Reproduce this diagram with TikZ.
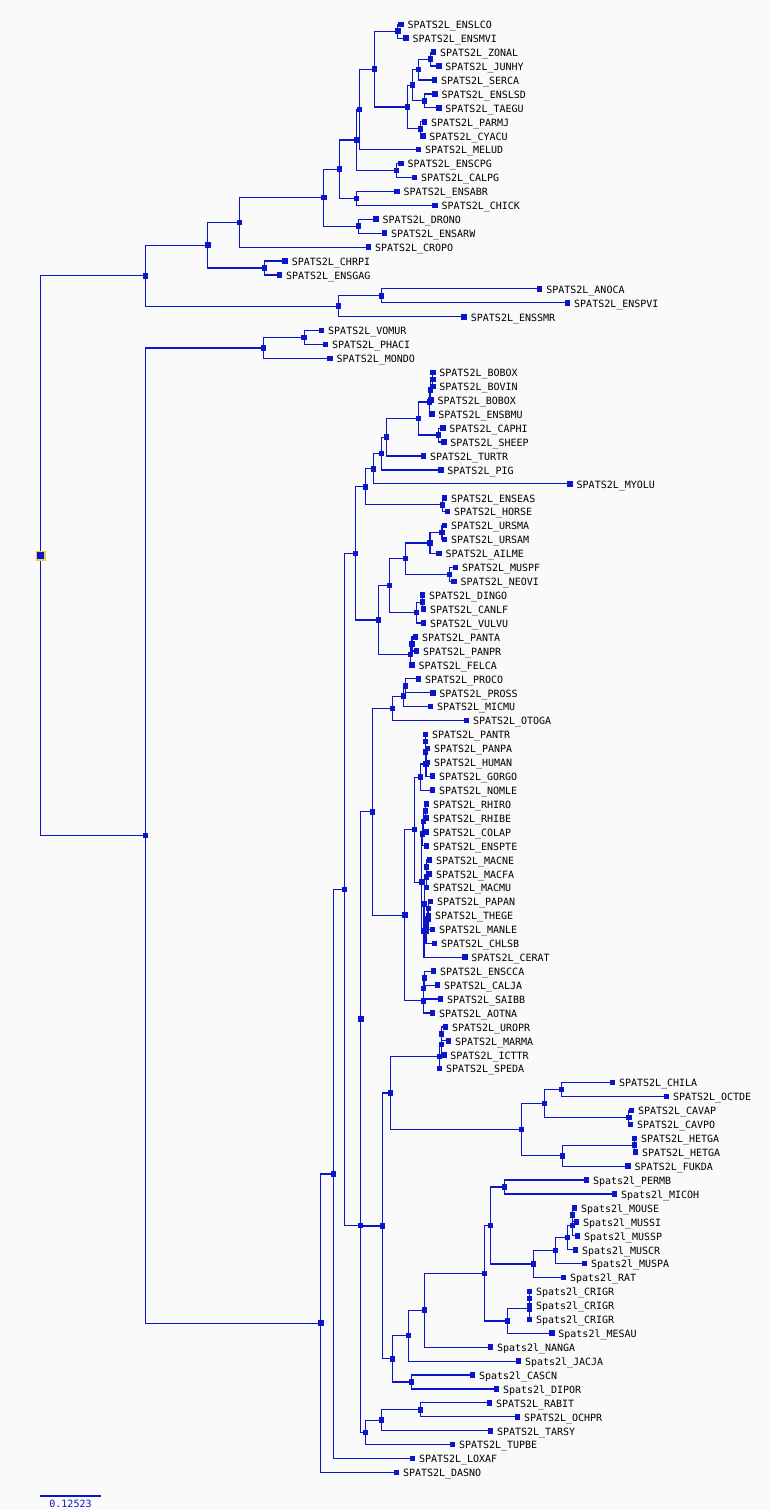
\documentclass[tikz,border=0pt]{standalone}
\usepackage{fontspec}
\newfontfamily\monof{DejaVu Sans Mono}
\usetikzlibrary{calc}
\definecolor{bl}{RGB}{10,22,200}
\definecolor{bg}{RGB}{250,250,250}
\definecolor{hl}{RGB}{232,204,80}
\tikzset{
  br/.style={draw=bl,line width=1.2pt},
  sq/.style={rectangle,fill=bl,draw=none,inner sep=0pt,minimum size=5.6pt},
  lab/.style={anchor=base west,inner sep=0pt,text=black,font=\monof\fontsize{10}{12}\selectfont},
}
\newcommand{\lfn}[3]{%
  \coordinate (L#1) at (#2,{24.3+(#1-1)*13.925});%
  \node[sq] (L#1s) at (L#1) {};%
  \node[lab] (L#1t) at ([xshift=6.5pt,yshift=-4.3pt]L#1) {#3};%
}
\newcommand{\inn}[4]{%
  \path let \p1=(#3), \p2=(#4) in coordinate (#1) at (#2pt,{(\y1+\y2)/2});%
  \draw[br] (#1) |- (#3);%
  \draw[br] (#1) |- (#4);%
  \node[sq] (#1s) at (#1) {};%
}
\begin{document}
\begin{tikzpicture}[x=1pt,y=-1pt]
\path[fill=bg,use as bounding box] (0,0) rectangle (770,1510);
% leaves
\lfn{1}{401}{SPATS2L\_ENSLCO}
\lfn{2}{406}{SPATS2L\_ENSMVI}
\lfn{3}{433.3}{SPATS2L\_ZONAL}
\lfn{4}{438.7}{SPATS2L\_JUNHY}
\lfn{5}{434.3}{SPATS2L\_SERCA}
\lfn{6}{435}{SPATS2L\_ENSLSD}
\lfn{7}{438.7}{SPATS2L\_TAEGU}
\lfn{8}{424.3}{SPATS2L\_PARMJ}
\lfn{9}{422.7}{SPATS2L\_CYACU}
\lfn{10}{418.3}{SPATS2L\_MELUD}
\lfn{11}{401}{SPATS2L\_ENSCPG}
\lfn{12}{414.3}{SPATS2L\_CALPG}
\lfn{13}{397}{SPATS2L\_ENSABR}
\lfn{14}{435}{SPATS2L\_CHICK}
\lfn{15}{376}{SPATS2L\_DRONO}
\lfn{16}{384.3}{SPATS2L\_ENSARW}
\lfn{17}{368.3}{SPATS2L\_CROPO}
\lfn{18}{285.1}{SPATS2L\_CHRPI}
\lfn{19}{279.4}{SPATS2L\_ENSGAG}
\lfn{20}{539.6}{SPATS2L\_ANOCA}
\lfn{21}{567.5}{SPATS2L\_ENSPVI}
\lfn{22}{464.2}{SPATS2L\_ENSSMR}
\lfn{23}{321.5}{SPATS2L\_VOMUR}
\lfn{24}{325.3}{SPATS2L\_PHACI}
\lfn{25}{330}{SPATS2L\_MONDO}
\lfn{26}{432.7}{SPATS2L\_BOBOX}
\lfn{27}{432.7}{SPATS2L\_BOVIN}
\lfn{28}{431}{SPATS2L\_BOBOX}
\lfn{29}{431.7}{SPATS2L\_ENSBMU}
\lfn{30}{442.7}{SPATS2L\_CAPHI}
\lfn{31}{443.7}{SPATS2L\_SHEEP}
\lfn{32}{423.3}{SPATS2L\_TURTR}
\lfn{33}{440.7}{SPATS2L\_PIG}
\lfn{34}{570}{SPATS2L\_MYOLU}
\lfn{35}{444.3}{SPATS2L\_ENSEAS}
\lfn{36}{447.3}{SPATS2L\_HORSE}
\lfn{37}{444.3}{SPATS2L\_URSMA}
\lfn{38}{444.3}{SPATS2L\_URSAM}
\lfn{39}{439}{SPATS2L\_AILME}
\lfn{40}{455.3}{SPATS2L\_MUSPF}
\lfn{41}{454}{SPATS2L\_NEOVI}
\lfn{42}{422.3}{SPATS2L\_DINGO}
\lfn{43}{423.3}{SPATS2L\_CANLF}
\lfn{44}{423.3}{SPATS2L\_VULVU}
\lfn{45}{415.3}{SPATS2L\_PANTA}
\lfn{46}{416.3}{SPATS2L\_PANPR}
\lfn{47}{412}{SPATS2L\_FELCA}
\lfn{48}{418.3}{SPATS2L\_PROCO}
\lfn{49}{432.7}{SPATS2L\_PROSS}
\lfn{50}{430.3}{SPATS2L\_MICMU}
\lfn{51}{466.3}{SPATS2L\_OTOGA}
\lfn{52}{425.3}{SPATS2L\_PANTR}
\lfn{53}{427.3}{SPATS2L\_PANPA}
\lfn{54}{427.3}{SPATS2L\_HUMAN}
\lfn{55}{432.3}{SPATS2L\_GORGO}
\lfn{56}{432.3}{SPATS2L\_NOMLE}
\lfn{57}{426.3}{SPATS2L\_RHIRO}
\lfn{58}{426.3}{SPATS2L\_RHIBE}
\lfn{59}{426.3}{SPATS2L\_COLAP}
\lfn{60}{426.3}{SPATS2L\_ENSPTE}
\lfn{61}{429.3}{SPATS2L\_MACNE}
\lfn{62}{429.3}{SPATS2L\_MACFA}
\lfn{63}{426.3}{SPATS2L\_MACMU}
\lfn{64}{430.3}{SPATS2L\_PAPAN}
\lfn{65}{428.3}{SPATS2L\_THEGE}
\lfn{66}{432.3}{SPATS2L\_MANLE}
\lfn{67}{434.3}{SPATS2L\_CHLSB}
\lfn{68}{464.7}{SPATS2L\_CERAT}
\lfn{69}{433.3}{SPATS2L\_ENSCCA}
\lfn{70}{437.3}{SPATS2L\_CALJA}
\lfn{71}{440.3}{SPATS2L\_SAIBB}
\lfn{72}{432.3}{SPATS2L\_AOTNA}
\lfn{73}{445.3}{SPATS2L\_UROPR}
\lfn{74}{448.3}{SPATS2L\_MARMA}
\lfn{75}{443.7}{SPATS2L\_ICTTR}
\lfn{76}{439.3}{SPATS2L\_SPEDA}
\lfn{77}{612.3}{SPATS2L\_CHILA}
\lfn{78}{666.3}{SPATS2L\_OCTDE}
\lfn{79}{631.3}{SPATS2L\_CAVAP}
\lfn{80}{630.3}{SPATS2L\_CAVPO}
\lfn{81}{634.3}{SPATS2L\_HETGA}
\lfn{82}{635.3}{SPATS2L\_HETGA}
\lfn{83}{628}{SPATS2L\_FUKDA}
\lfn{84}{586.3}{Spats2l\_PERMB}
\lfn{85}{614.3}{Spats2l\_MICOH}
\lfn{86}{574.3}{Spats2l\_MOUSE}
\lfn{87}{576.3}{Spats2l\_MUSSI}
\lfn{88}{577.3}{Spats2l\_MUSSP}
\lfn{89}{575.3}{Spats2l\_MUSCR}
\lfn{90}{584.3}{Spats2l\_MUSPA}
\lfn{91}{563.3}{Spats2l\_RAT}
\lfn{92}{529.3}{Spats2l\_CRIGR}
\lfn{93}{529.3}{Spats2l\_CRIGR}
\lfn{94}{529.3}{Spats2l\_CRIGR}
\lfn{95}{551.7}{Spats2l\_MESAU}
\lfn{96}{490.3}{Spats2l\_NANGA}
\lfn{97}{518.3}{Spats2l\_JACJA}
\lfn{98}{472.3}{Spats2l\_CASCN}
\lfn{99}{496.3}{Spats2l\_DIPOR}
\lfn{100}{489.3}{SPATS2L\_RABIT}
\lfn{101}{517.3}{SPATS2L\_OCHPR}
\lfn{102}{490.3}{SPATS2L\_TARSY}
\lfn{103}{452.3}{SPATS2L\_TUPBE}
\lfn{104}{412.3}{SPATS2L\_LOXAF}
\lfn{105}{396.3}{SPATS2L\_DASNO}
% birds and reptiles
\inn{b1}{430.3}{L3}{L4}
\inn{b2}{418.3}{b1}{L5}
\inn{b3}{424.3}{L6}{L7}
\inn{b4}{412.3}{b2}{b3}
\inn{b5}{420.3}{L8}{L9}
\inn{b6}{407.3}{b4}{b5}
\inn{b7}{397.7}{L1}{L2}
\inn{b8}{374.3}{b7}{b6}
\inn{b9}{359.3}{b8}{L10}
\inn{b10}{396.3}{L11}{L12}
\inn{b11}{356.7}{b9}{b10}
\inn{b12}{356.3}{L13}{L14}
\inn{b13}{339.3}{b11}{b12}
\inn{b14}{358.3}{L15}{L16}
\inn{b15}{323.7}{b13}{b14}
\inn{b16}{239.3}{b15}{L17}
\inn{b17}{264.4}{L18}{L19}
\inn{b18}{207.8}{b16}{b17}
\inn{b19}{381.5}{L20}{L21}
\inn{b20}{338.3}{b19}{L22}
\inn{b21}{145.4}{b18}{b20}
% mammals
\inn{m1}{304.2}{L23}{L24}
\inn{m2}{263.3}{m1}{L25}
\inn{c1}{432.7}{L26}{L27}
\inn{c2}{430.3}{c1}{L28}
\inn{c3}{429.3}{c2}{L29}
\inn{c4}{438.3}{L30}{L31}
\inn{c5}{418.3}{c3}{c4}
\inn{c6}{386.3}{c5}{L32}
\inn{c7}{381.3}{c6}{L33}
\inn{c8}{373.3}{c7}{L34}
\inn{c9}{442.3}{L35}{L36}
\inn{c10}{365.3}{c8}{c9}
\inn{k1}{442}{L37}{L38}
\inn{k2}{430}{k1}{L39}
\inn{k3}{449.3}{L40}{L41}
\inn{k4}{405.3}{k2}{k3}
\inn{k5}{422.3}{L42}{L43}
\inn{k6}{416.3}{k5}{L44}
\inn{k7}{389.3}{k4}{k6}
\inn{f1}{412}{L45}{L46}
\inn{f2}{410.3}{f1}{L47}
\inn{k8}{378.3}{k7}{f2}
\inn{la}{355.3}{c10}{k8}
\inn{s1}{405.3}{L48}{L49}
\inn{s2}{403.3}{s1}{L50}
\inn{s3}{392.3}{s2}{L51}
\inn{h1}{425.3}{L52}{L53}
\inn{h2}{425.5}{h1}{L54}
\inn{h3}{426}{h2}{L55}
\inn{h4}{420.3}{h3}{L56}
\inn{o1}{425.3}{L57}{L58}
\inn{o2}{423.3}{o1}{L59}
\inn{o3}{422.3}{o2}{L60}
\inn{q1}{426.3}{L61}{L62}
\inn{q2}{426.3}{q1}{L63}
\inn{p1}{428.3}{L64}{L65}
\inn{p2}{428}{p1}{L66}
\inn{p3}{426}{p2}{L67}
\inn{q3}{424.5}{q2}{p3}
\inn{q4}{424}{q3}{L68}
\inn{o4}{421.7}{o3}{q4}
\inn{ca}{414.3}{h4}{o4}
\inn{w1}{424.3}{L69}{L70}
\inn{w2}{423.3}{w1}{L71}
\inn{w3}{423.3}{w2}{L72}
\inn{an}{404.7}{ca}{w3}
\inn{pr}{372.3}{s3}{an}
\inn{g1}{441.3}{L73}{L74}
\inn{g2}{441.3}{g1}{L75}
\inn{g3}{439.3}{g2}{L76}
\inn{y1}{561.3}{L77}{L78}
\inn{y2}{628.7}{L79}{L80}
\inn{y3}{544.3}{y1}{y2}
\inn{y4}{634.3}{L81}{L82}
\inn{y5}{562.3}{y4}{L83}
\inn{y6}{521.3}{y3}{y5}
\inn{g4}{390.3}{g3}{y6}
\inn{r1}{504.3}{L84}{L85}
\inn{u1}{572.3}{L86}{L87}
\inn{u2}{572.3}{u1}{L88}
\inn{u3}{567.3}{u2}{L89}
\inn{u4}{555.3}{u3}{L90}
\inn{u5}{533.3}{u4}{L91}
\inn{r2}{490.3}{r1}{u5}
\inn{e1}{529.3}{L92}{L93}
\inn{e2}{529.3}{e1}{L94}
\inn{e3}{507.3}{e2}{L95}
\inn{r3}{484.3}{r2}{e3}
\inn{r4}{424.3}{r3}{L96}
\inn{r5}{408.3}{r4}{L97}
\inn{d1}{411.3}{L98}{L99}
\inn{r6}{392.3}{r5}{d1}
\inn{gl}{382.3}{g4}{r6}
\inn{eu}{360.7}{pr}{gl}
\inn{z1}{420.3}{L100}{L101}
\inn{z2}{381.3}{z1}{L102}
\inn{z3}{365.3}{z2}{L103}
\inn{ea}{360.3}{eu}{z3}
\inn{bo}{344.3}{la}{ea}
\inn{af}{333.3}{bo}{L104}
\inn{ex}{320.7}{af}{L105}
\inn{mm}{145.4}{m2}{ex}
\inn{root}{40.7}{b21}{mm}
\node[rectangle,fill=bl,draw=hl,line width=1.8pt,inner sep=0pt,minimum size=8.6pt] (rootmark) at (root) {};
% scale bar
\coordinate (sb1) at (40,1495.7);
\coordinate (sb2) at (101,1495.7);
\draw[draw=bl,line width=2pt] (sb1) -- (sb2);
\node[anchor=base,inner sep=0pt,text=bl,font=\monof\fontsize{10}{12}\selectfont] (sblab) at (70.5,1507.3) {0.12523};
\end{tikzpicture}
\end{document}
